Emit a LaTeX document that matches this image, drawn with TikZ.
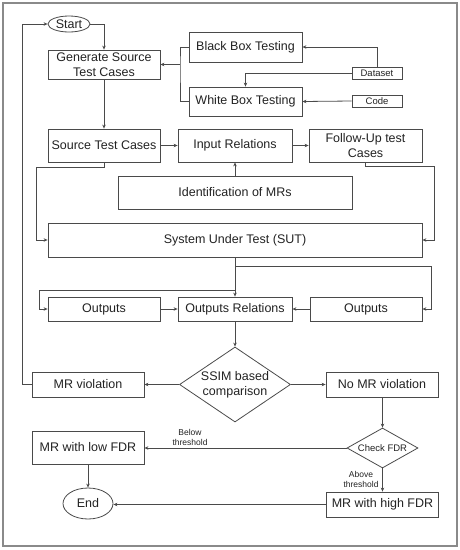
\documentclass[tikz,border=0pt]{standalone}
\usepackage{fontspec}
\setmainfont{Liberation Sans}
\usetikzlibrary{shapes.geometric,arrows.meta}
\definecolor{linec}{HTML}{4A4A4A}
\definecolor{textc}{HTML}{222222}
\definecolor{framec}{HTML}{8A8A8A}
\tikzset{
  box/.style={draw=linec, line width=0.8pt, rectangle, inner sep=0pt, align=center,
    text=textc, font=\fontsize{12.5}{15}\selectfont},
  smallbox/.style={box, font=\fontsize{9.5}{11}\selectfont},
  oval/.style={box, ellipse},
  dia/.style={box, diamond},
  conn/.style={draw=linec, line width=0.8pt},
  arr/.style={conn, -{Stealth[length=4pt,width=3.5pt]}},
  lbl/.style={text=textc, align=center, font=\fontsize{8.5}{10}\selectfont, inner sep=0pt}
}
\begin{document}
\begin{tikzpicture}[x=1pt,y=-1pt]
\useasboundingbox (0,0) rectangle (460,550);
\draw[framec, line width=1.2pt] (3,3) rectangle (457,546);

\node[oval, minimum width=42pt, minimum height=16pt] (start) at (69,24) {Start};
\node[box, minimum width=112pt, minimum height=29pt] (gen) at (104,64.5) {Generate Source\\Test Cases};
\node[box, minimum width=113pt, minimum height=30pt] (bb) at (245.5,47) {Black Box Testing};
\node[box, minimum width=113pt, minimum height=29pt] (wb) at (245.5,101.5) {White Box Testing};
\node[smallbox, minimum width=50pt, minimum height=12pt] (ds) at (377,73) {Dataset};
\node[smallbox, minimum width=50pt, minimum height=12pt] (code) at (377,101) {Code};

\node[box, minimum width=112pt, minimum height=33pt] (stc) at (104,145.5) {Source Test Cases};
\node[box, minimum width=114pt, minimum height=33pt] (ir) at (235,145.5) {Input Relations};
\node[box, minimum width=113pt, minimum height=33pt] (fu) at (365.5,145.5) {Follow-Up test\\Cases};
\node[box, minimum width=234pt, minimum height=33pt] (id) at (235,192.5) {Identification of MRs};
\node[box, minimum width=374pt, minimum height=34pt] (sut) at (235,240) {System Under Test (SUT)};

\node[box, minimum width=112pt, minimum height=24pt] (out1) at (104,309) {Outputs};
\node[box, minimum width=114pt, minimum height=24pt] (orl) at (235,309) {Outputs Relations};
\node[box, minimum width=112pt, minimum height=24pt] (out2) at (366,309) {Outputs};

\node[dia, aspect=1.48, minimum width=111pt, minimum height=75pt] (ssim) at (235,384.5) {SSIM based\\comparison};
\node[box, minimum width=112pt, minimum height=25pt] (mrv) at (88,384.5) {MR violation};
\node[box, minimum width=112pt, minimum height=25pt] (nmrv) at (382,384.5) {No MR violation};

\node[dia, aspect=1.77, minimum width=71pt, minimum height=40pt, font=\fontsize{9.5}{11}\selectfont] (cfdr) at (382.5,448) {Check FDR};
\node[box, minimum width=112pt, minimum height=33pt] (low) at (88,447.5) {MR with low FDR};
\node[box, minimum width=112pt, minimum height=25pt] (high) at (382.5,504.5) {MR with high FDR};
\node[oval, minimum width=50pt, minimum height=31pt] (end) at (88,503.5) {End};

\node[lbl] (below) at (190,437) {Below\\threshold};
\node[lbl] (above) at (361,479) {Above\\threshold};

% connectors
\draw[arr] (start.east) -| (gen.north);
\draw[arr] (gen.south) -- (stc.north);
\coordinate (j1) at (180,64.5);
\draw[conn] (bb.west) -| (j1) |- (wb.west);
\draw[arr] (j1) -- (gen.east);
\draw[arr] (ds.north) |- (bb.east);
\draw[arr] (ds.west) -| (wb.north);
\draw[arr] (code.west) -- (wb.east);

\draw[arr] (stc.east) -- (ir.west);
\draw[arr] (ir.east) -- (fu.west);
\draw[arr] (id.north) -- (ir.south);
\coordinate (a1) at (36,167);
\draw[arr] (stc.south) |- (a1) |- (sut.west);
\coordinate (a2) at (434,166);
\draw[arr] (fu.south) |- (a2) |- (sut.east);

\draw[arr] (sut.south) -- (orl.north);
\coordinate (b1) at (235,266);
\coordinate (b2) at (431,266);
\draw[arr] (b1) -- (b2) |- (out2.east);
\coordinate (b3) at (235,290);
\coordinate (b4) at (39,290);
\draw[arr] (b3) -- (b4) |- (out1.west);
\draw[arr] (out1.east) -- (orl.west);
\draw[arr] (out2.west) -- (orl.east);

\draw[arr] (orl.south) -- (ssim.north);
\draw[arr] (ssim.west) -- (mrv.west -| mrv.east);
\draw[arr] (ssim.east) -- (nmrv.west);
\coordinate (c1) at (22,384.5);
\draw[arr] (mrv.west) -- (c1) |- (start.west);

\draw[arr] (nmrv.south -| cfdr.north) -- (cfdr.north);
\draw[arr] (cfdr.west) -- (cfdr.west -| low.east);
\draw[arr] (cfdr.south) -- (high.north);
\draw[arr] (high.west) -- (high.west -| end.east);
\draw[arr] (low.south) -- (end.north);
\end{tikzpicture}
\end{document}
